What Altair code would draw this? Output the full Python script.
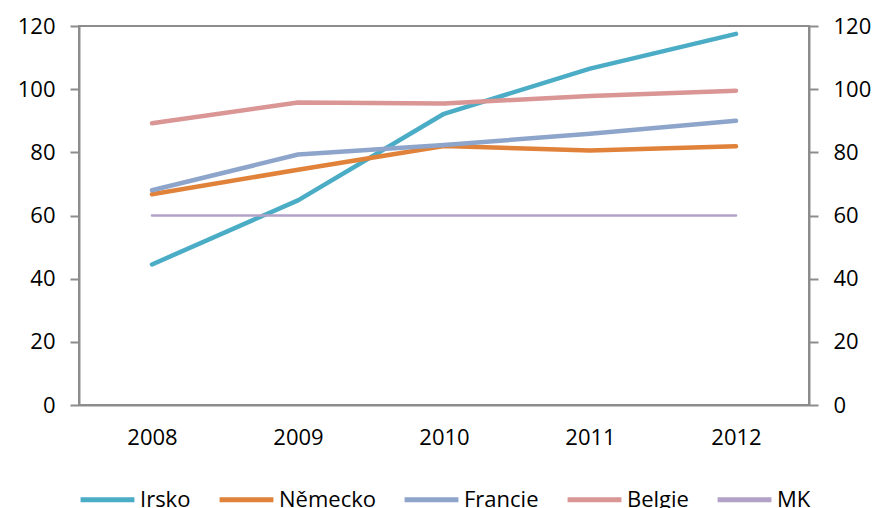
import altair as alt
import pandas as pd

years = ["2008", "2009", "2010", "2011", "2012"]
series_names = ["Irsko", "Německo", "Francie", "Belgie", "MK"]
irsko = [44.5, 64.8, 92.2, 106.5, 117.5]
nemecko = [66.7, 74.5, 82.0, 80.6, 81.9]
francie = [68.0, 79.3, 82.3, 85.9, 90.0]
belgie = [89.2, 95.8, 95.5, 97.8, 99.5]
mk = [60, 60, 60, 60, 60]
colors = ["#4BACC6", "#E0823A", "#8EA5CB", "#D99694", "#B3A2C7"]
y_ticks = [0, 20, 40, 60, 80, 100, 120]

rows = []
for name, vals in zip(series_names, [irsko, nemecko, francie, belgie, mk]):
    for yr, v in zip(years, vals):
        rows.append({"rok": yr, "serie": name, "hodnota": v, "w": "thin" if name == "MK" else "thick"})
df = pd.DataFrame(rows)

FONT = "Open Sans"
ysc = alt.Scale(domain=[0, 120], nice=False, zero=True)
xenc = alt.X("rok:N", sort=years, scale=alt.Scale(paddingInner=0, paddingOuter=0),
             axis=alt.Axis(title=None, labelAngle=0, ticks=False, labelPadding=22,
                           domainColor="#8C8C8C", domainWidth=2))

lines = alt.Chart(df).mark_line(strokeCap="round", strokeJoin="round").encode(
    x=xenc,
    y=alt.Y("hodnota:Q", scale=ysc,
            axis=alt.Axis(title=None, values=y_ticks, grid=False, tickSize=9, labelPadding=15,
                          domainColor="#8C8C8C", tickColor="#8C8C8C", domainWidth=2, tickWidth=2,
                          orient="left")),
    color=alt.Color("serie:N", sort=series_names,
                    scale=alt.Scale(domain=series_names, range=colors),
                    legend=alt.Legend(title=None, orient="none", direction="horizontal",
                                      legendX=-1, legendY=444, symbolType="stroke",
                                      symbolSize=2900, symbolStrokeWidth=5,
                                      labelFontSize=22, labelFont=FONT, labelColor="#000000",
                                      labelOffset=3, columnPadding=18, padding=0)),
    strokeWidth=alt.StrokeWidth("w:N", scale=alt.Scale(domain=["thick", "thin"], range=[4.5, 2.5]),
                                legend=None),
)

right = alt.Chart(df).mark_line(opacity=0).encode(
    x=xenc,
    y=alt.Y("hodnota:Q", scale=ysc,
            axis=alt.Axis(title=None, values=y_ticks, grid=False, tickSize=9, labelPadding=15,
                          domainColor="#8C8C8C", tickColor="#8C8C8C", domainWidth=2, tickWidth=2,
                          orient="right")),
)

chart = alt.layer(lines, right).resolve_axis(y="independent").properties(
    width=730, height=379,
    padding={"left": 79, "top": 26, "right": 69, "bottom": 103},
    autosize=alt.AutoSizeParams(type="none"),
).configure_view(stroke="#8C8C8C", strokeWidth=2).configure_axis(
    labelFont=FONT, labelFontSize=22, labelColor="#000000"
)

chart.save("out.html", embed_options={"renderer": "svg", "actions": False})
